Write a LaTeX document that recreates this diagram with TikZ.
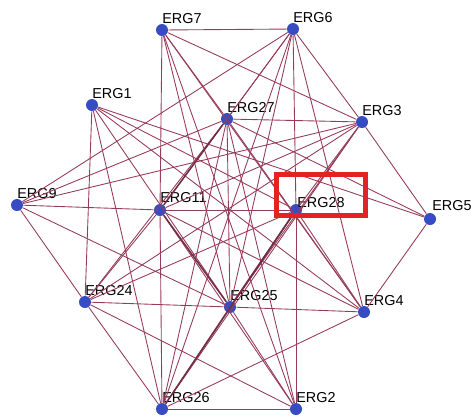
\documentclass[tikz,border=0pt]{standalone}
\usepackage{fontspec}
\setmainfont{Liberation Sans}
\usetikzlibrary{positioning}
\definecolor{ergblue}{RGB}{55,75,195}
\definecolor{linkred}{RGB}{150,60,90}
\definecolor{boxred}{RGB}{225,35,35}

\begin{document}
\begin{tikzpicture}[
    x=0.02cm, y=-0.02cm,
    gene/.style={circle, fill=ergblue, minimum size=0.24cm, inner sep=0pt},
    tag/.style={anchor=base west, inner sep=0pt, font=\fontsize{8.2}{9}\selectfont},
    link/.style={draw=linkred, line width=0.5pt},
    heavy/.style={draw=linkred!75!black, line width=0.85pt}
  ]
  \useasboundingbox (0,0) rectangle (472,417);

  % Genes
  \node[gene] (e7)  at (162,30)  {};
  \node[gene] (e6)  at (293,29)  {};
  \node[gene] (e1)  at (92,105)  {};
  \node[gene] (e27) at (227,119) {};
  \node[gene] (e3)  at (362,122) {};
  \node[gene] (e9)  at (17,205)  {};
  \node[gene] (e11) at (160,210) {};
  \node[gene] (e28) at (296,210) {};
  \node[gene] (e5)  at (430,219) {};
  \node[gene] (e24) at (85,302)  {};
  \node[gene] (e25) at (230,307) {};
  \node[gene] (e4)  at (364,312) {};
  \node[gene] (e26) at (162,409) {};
  \node[gene] (e2)  at (296,409) {};

  % Names
  \node[tag] (t7)  at (162,23)  {ERG7};
  \node[tag] (t6)  at (293,22)  {ERG6};
  \node[tag] (t1)  at (92,98)   {ERG1};
  \node[tag] (t27) at (227,112) {ERG27};
  \node[tag] (t3)  at (362,115) {ERG3};
  \node[tag] (t9)  at (17,198)  {ERG9};
  \node[tag] (t11) at (160,202) {ERG11};
  \node[tag] (t28) at (297,207) {ERG28};
  \node[tag] (t5)  at (432,210) {ERG5};
  \node[tag] (t24) at (85,295)  {ERG24};
  \node[tag] (t25) at (230,300) {ERG25};
  \node[tag] (t4)  at (364,305) {ERG4};
  \node[tag] (t26) at (162,402) {ERG26};
  \node[tag] (t2)  at (296,402) {ERG2};

  % Links
  \foreach \a/\b in {7/6, 7/27, 7/3, 7/11, 7/25, 7/2, 7/4,
                     6/3, 6/27, 6/9, 6/11, 6/26, 6/25, 6/28, 6/4,
                     1/24, 1/26, 1/25, 1/28, 1/5, 1/4,
                     27/3, 27/9, 27/24, 27/25, 27/26, 27/2, 27/4, 27/5,
                     3/9, 3/11, 3/24, 3/28, 3/25, 3/26, 3/5,
                     9/11, 9/24, 9/25,
                     11/28, 11/24, 11/4, 11/2, 11/26,
                     28/2, 28/24, 28/4,
                     24/25, 24/26, 24/2,
                     25/4, 25/2, 25/26,
                     26/2, 26/4, 4/5}
    \draw[link] (e\a) -- (e\b);
  \foreach \a/\b in {11/27, 11/25, 28/25, 28/26}
    \draw[heavy] (e\a) -- (e\b);

  % Highlight
  \draw[boxred, line width=2.85pt] (276.5,174.5) rectangle (365.5,215.5);
\end{tikzpicture}
\end{document}
